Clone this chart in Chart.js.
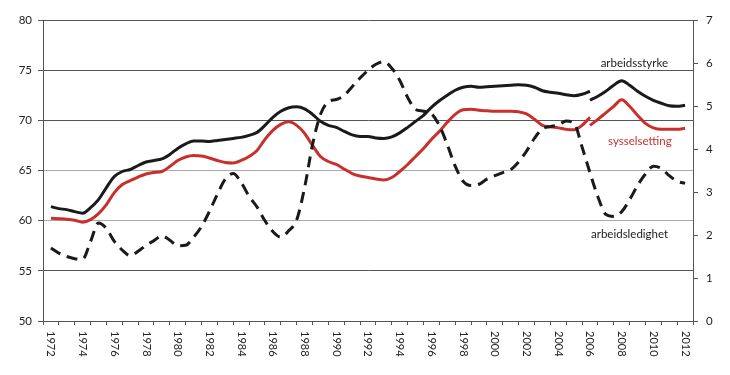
<!DOCTYPE html>
<html>
<head>
<meta charset="utf-8">
<script src="https://cdn.jsdelivr.net/npm/chart.js@4/dist/chart.umd.min.js"></script>
<style>
  html, body { margin: 0; padding: 0; background: #ffffff; }
  #wrap { width: 730px; height: 375px; }
</style>
</head>
<body>
<div id="wrap"><canvas id="c" width="730" height="375"></canvas></div>
<script>
// Half-year periods 1972.0 ... 2012.0
const periods = [];
for (let i = 0; i <= 80; i++) periods.push(1972 + i * 0.5);

// Arbeidsstyrke (labour force, % of population), old series to 2006
const arbeidsstyrkeGammel = [
  61.4, 61.2, 61.1, 60.9, 60.75, 61.3, 62.1, 63.3, 64.4, 64.9,
  65.1, 65.5, 65.85, 66.0, 66.15, 66.6, 67.2, 67.65, 67.95, 67.95,
  67.9, 68.0, 68.1, 68.2, 68.3, 68.5, 68.8, 69.5, 70.3, 70.9,
  71.25, 71.35, 71.15, 70.6, 69.9, 69.5, 69.3, 68.9, 68.55, 68.4,
  68.4, 68.25, 68.2, 68.35, 68.75, 69.3, 69.9, 70.5, 71.3, 71.95,
  72.5, 73.0, 73.3, 73.4, 73.3, 73.35, 73.4, 73.45, 73.5, 73.55,
  73.5, 73.3, 72.95, 72.8, 72.7, 72.55, 72.45, 72.6, 72.9
];
// New series from 2006
const arbeidsstyrkeNy = [
  72.0, 72.4, 72.9, 73.5, 73.95, 73.5, 72.9, 72.4, 72.0, 71.7,
  71.45, 71.4, 71.5
];
// Sysselsetting (employment), old series to 2006
const sysselsettingGammel = [
  60.25, 60.2, 60.15, 60.05, 59.85, 60.1, 60.7, 61.6, 62.8, 63.6,
  64.0, 64.35, 64.65, 64.8, 64.9, 65.4, 66.0, 66.35, 66.5, 66.45,
  66.25, 66.0, 65.8, 65.75, 66.0, 66.4, 67.0, 68.1, 69.0, 69.6,
  69.85, 69.5, 68.7, 67.5, 66.4, 65.9, 65.6, 65.15, 64.7, 64.45,
  64.3, 64.15, 64.05, 64.3, 64.9, 65.6, 66.4, 67.2, 68.1, 68.9,
  69.8, 70.6, 71.05, 71.1, 71.0, 70.95, 70.9, 70.9, 70.9, 70.85,
  70.65, 70.1, 69.5, 69.35, 69.25, 69.1, 69.05, 69.5, 70.3
];
// New series from 2006
const sysselsettingNy = [
  69.5, 70.1, 70.75, 71.4, 72.05, 71.4, 70.5, 69.7, 69.25, 69.1,
  69.1, 69.1, 69.2
];
// Arbeidsledighet (unemployment, %), right axis
const arbeidsledighet = [
  1.7, 1.58, 1.5, 1.45, 1.44, 1.85, 2.28, 2.15, 1.85, 1.65,
  1.52, 1.62, 1.76, 1.87, 1.98, 1.88, 1.75, 1.76, 1.95, 2.2,
  2.55, 2.95, 3.3, 3.43, 3.22, 2.9, 2.65, 2.33, 2.08, 1.95,
  2.1, 2.35, 3.1, 4.1, 4.8, 5.1, 5.15, 5.25, 5.45, 5.65,
  5.83, 5.97, 6.03, 5.88, 5.6, 5.2, 4.92, 4.88, 4.82, 4.55,
  4.1, 3.6, 3.25, 3.15, 3.18, 3.3, 3.38, 3.45, 3.52, 3.7,
  3.95, 4.25, 4.47, 4.52, 4.56, 4.65, 4.6, 4.05, 3.45, 2.89,
  2.48, 2.43, 2.54, 2.82, 3.15, 3.42, 3.6, 3.55, 3.38, 3.25,
  3.2
];

const xLabelYears = [];
for (let y = 1972; y <= 2012; y += 2) xLabelYears.push(String(y));
const leftTicks = [50, 55, 60, 65, 70, 75, 80];
const rightTicks = [0, 1, 2, 3, 4, 5, 6, 7];

const seriesNames = {
  arbeidsstyrke: 'arbeidsstyrke',
  sysselsetting: 'sysselsetting',
  arbeidsledighet: 'arbeidsledighet'
};
// annotation anchors in data units (year, left-axis value)
const annotations = [
  { text: seriesNames.arbeidsstyrke, x: 2008.8, y: 75.7, color: '#1a1a1a' },
  { text: seriesNames.sysselsetting, x: 2009.15, y: 67.9, color: '#c9302c' },
  { text: seriesNames.arbeidsledighet, x: 2008.5, y: 58.6, color: '#1a1a1a' }
];

const toPoints = (xs, ys, offset) => ys.map((v, i) => ({ x: xs[i + offset], y: v }));
const newStart = periods.indexOf(2006);

const FONT = 'Lato, "Open Sans", sans-serif';
const BLACK = '#1a1a1a';
const RED = '#c9302c';
const AXIS = '#555555';

const labelPlugin = {
  id: 'labels',
  afterDraw(chart) {
    const ctx = chart.ctx;
    const xs = chart.scales.x;
    const ys = chart.scales.y;
    ctx.save();
    ctx.font = '11px ' + FONT;
    ctx.fillStyle = '#222222';
    ctx.textAlign = 'left';
    ctx.textBaseline = 'middle';
    xLabelYears.forEach(lbl => {
      const px = xs.getPixelForValue(Number(lbl));
      ctx.save();
      ctx.translate(px, chart.chartArea.bottom + 10);
      ctx.rotate(Math.PI / 2);
      ctx.fillText(lbl, 0, 0);
      ctx.restore();
    });
    ctx.font = '11.5px ' + FONT;
    ctx.textAlign = 'center';
    annotations.forEach(a => {
      ctx.fillStyle = a.color;
      ctx.fillText(a.text, xs.getPixelForValue(a.x), ys.getPixelForValue(a.y));
    });
    ctx.restore();
  }
};

new Chart(document.getElementById('c'), {
  type: 'line',
  data: {
    datasets: [
      {
        label: 'arbeidsledighet', yAxisID: 'y1',
        data: toPoints(periods, arbeidsledighet, 0),
        borderColor: BLACK, borderWidth: 3, borderDash: [11, 7],
        borderCapStyle: 'butt', pointRadius: 0, cubicInterpolationMode: 'monotone', order: 1
      },
      {
        label: 'arbeidsstyrke', yAxisID: 'y',
        data: toPoints(periods, arbeidsstyrkeGammel, 0),
        borderColor: BLACK, borderWidth: 3, pointRadius: 0, cubicInterpolationMode: 'monotone', order: 2
      },
      {
        label: 'arbeidsstyrke ny', yAxisID: 'y',
        data: toPoints(periods, arbeidsstyrkeNy, newStart),
        borderColor: BLACK, borderWidth: 3, pointRadius: 0, cubicInterpolationMode: 'monotone', order: 2
      },
      {
        label: 'sysselsetting', yAxisID: 'y',
        data: toPoints(periods, sysselsettingGammel, 0),
        borderColor: RED, borderWidth: 3, pointRadius: 0, cubicInterpolationMode: 'monotone', order: 3
      },
      {
        label: 'sysselsetting ny', yAxisID: 'y',
        data: toPoints(periods, sysselsettingNy, newStart),
        borderColor: RED, borderWidth: 3, pointRadius: 0, cubicInterpolationMode: 'monotone', order: 3
      }
    ]
  },
  options: {
    responsive: false,
    animation: false,
    layout: { padding: { top: 20, left: 0, right: 0, bottom: 0 } },
    plugins: { legend: { display: false }, tooltip: { enabled: false } },
    scales: {
      x: {
        type: 'linear', min: 1971.5, max: 2012.5,
        afterBuildTicks: s => {
          const t = [];
          for (let v = 1971.5; v <= 2012.5; v += 1) t.push({ value: v });
          s.ticks = t;
        },
        afterFit: s => { s.height = 54; },
        ticks: { display: false },
        grid: { drawOnChartArea: false, drawTicks: true, tickLength: 4, tickColor: AXIS, lineWidth: 1 },
        border: { display: true, color: AXIS, width: 1 }
      },
      y: {
        position: 'left', min: 50, max: 80,
        afterBuildTicks: s => { s.ticks = leftTicks.map(v => ({ value: v })); },
        afterFit: s => { s.width = 43; },
        ticks: { color: '#222222', font: { family: FONT, size: 11.5 }, padding: 6 },
        grid: {
          color: c => (c.tick && (c.tick.value === 60 || c.tick.value === 65)) ? '#aaaaaa' : '#555555',
          tickColor: AXIS, tickLength: 5, lineWidth: 1
        },
        border: { display: true, color: AXIS, width: 1 }
      },
      y1: {
        position: 'right', min: 0, max: 7,
        afterBuildTicks: s => { s.ticks = rightTicks.map(v => ({ value: v })); },
        afterFit: s => { s.width = 37; },
        ticks: { color: '#222222', font: { family: FONT, size: 11.5 }, padding: 8 },
        grid: { drawOnChartArea: false, tickColor: AXIS, tickLength: 5 },
        border: { display: true, color: AXIS, width: 1 }
      }
    }
  },
  plugins: [labelPlugin]
});
</script>
</body>
</html>
